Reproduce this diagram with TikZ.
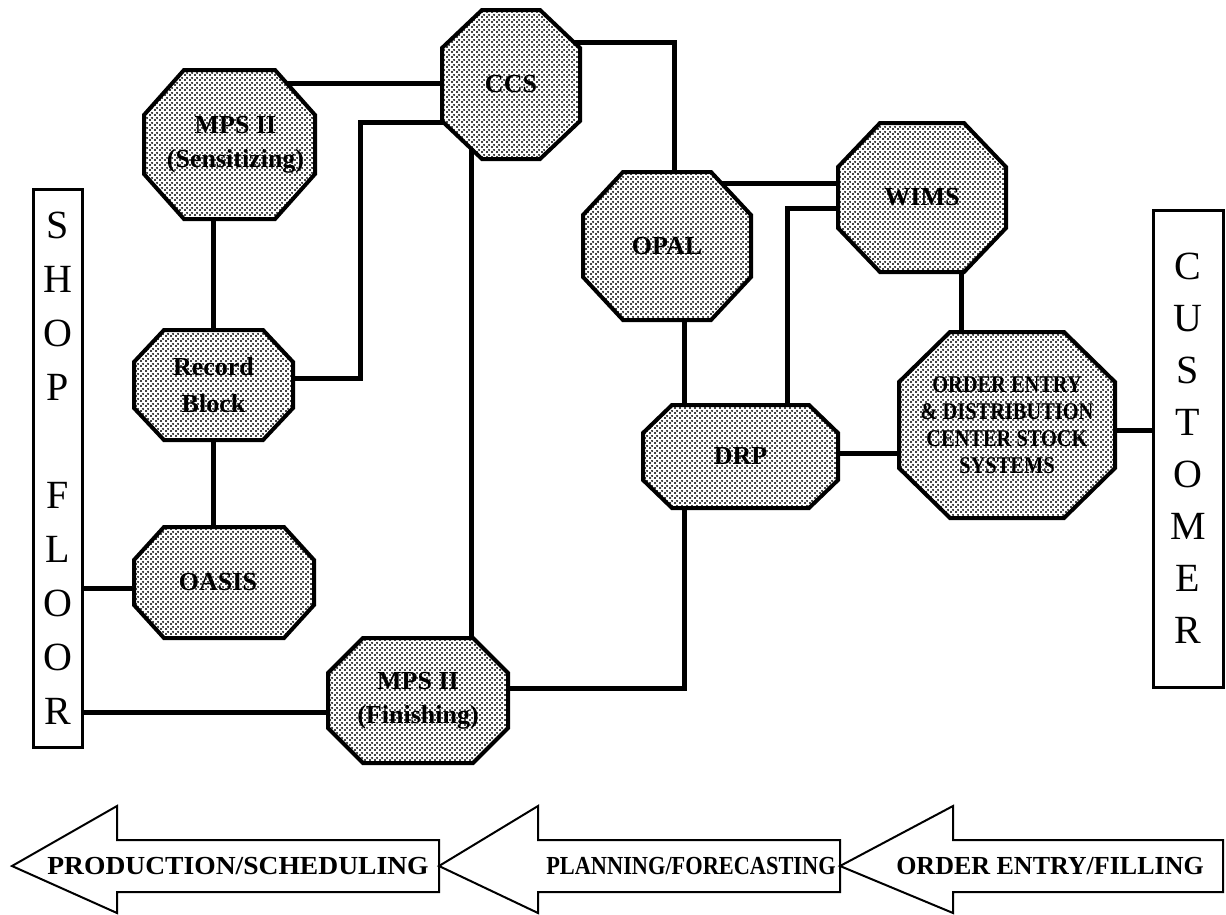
\documentclass[tikz,border=0pt]{standalone}
\usepackage{fontspec}
\usepackage{graphicx}
\setmainfont{Liberation Serif}
\newfontfamily\condfont{Liberation Serif}[FakeStretch=0.85]
\usetikzlibrary{patterns.meta}

% halftone screen used inside the system octagons
\tikzdeclarepattern{
  name=halftone,
  type=uncolored,
  bottom left={(0pt,0pt)},
  top right={(4.5pt,4.5pt)},
  tile size={(4.5pt,4.5pt)},
  code={
    \fill (1.125pt,1.125pt) circle (1.2pt);
    \fill (3.375pt,3.375pt) circle (1.2pt);
  }
}

\pgfdeclarelayer{wires}
\pgfdeclarelayer{shapes}
\pgfsetlayers{wires,shapes,main}

% octagon: [label style]{name}{cx}{cy}{width}{height}{corner x}{corner y}{text}
\newcommand{\drawoct}[9][]{%
  \node[octlabel, minimum width=#5pt, minimum height=#6pt, #1] (#2) at (#3,#4) {#9};
  \begin{pgfonlayer}{shapes}
    \draw[octshape]
      ([xshift=#7pt]#2.north west) -- ([xshift=-#7pt]#2.north east)
      -- ([yshift=-#8pt]#2.north east) -- ([yshift=#8pt]#2.south east)
      -- ([xshift=-#7pt]#2.south east) -- ([xshift=#7pt]#2.south west)
      -- ([yshift=#8pt]#2.south west) -- ([yshift=-#8pt]#2.north west) -- cycle;
  \end{pgfonlayer}}

\begin{document}
\begin{tikzpicture}[x=1pt, y=-1pt,
  octshape/.style={draw=black, line width=4pt, preaction={fill=white},
    pattern=halftone, pattern color=black, line join=miter},
  octlabel/.style={inner sep=0pt, outer sep=0pt, align=center,
    font=\bfseries\fontsize{26}{34}\selectfont},
  wire/.style={line width=5pt},
  sidebox/.style={draw, line width=3pt, fill=white, inner sep=0pt, outer sep=0pt,
    align=center},
  phase/.style={draw, line width=2pt, fill=white, line join=miter},
  phaselabel/.style={inner sep=0pt, font=\bfseries\fontsize{26}{30}\selectfont}]

\useasboundingbox (0,0) rectangle (1226,914);

% systems
\drawoct{mpss}{229.5}{144.5}{171}{149}{40}{45}{\hspace*{12pt}MPS II\\\hspace*{12pt}(Sensitizing)}
\drawoct{ccs}{511}{84.5}{138}{149}{40}{38}{CCS}
\drawoct[font=\bfseries\fontsize{26}{37}\selectfont]{rec}{213.5}{385}{159}{110}{30}{32}{Record\\Block}
\drawoct{oasis}{224}{582.5}{180}{111}{30}{33}{OASIS\hspace*{12pt}}
\drawoct{mpsf}{418}{700.5}{180}{125}{35}{35}{MPS II\\(Finishing)}
\drawoct{opal}{667}{246}{168}{148}{40}{43}{OPAL}
\drawoct{wims}{922}{197.5}{168}{149}{42}{44}{WIMS}
\drawoct{drp}{740.5}{456.5}{195}{103}{29}{28}{DRP}
\drawoct[font=\condfont\bfseries\fontsize{24}{27}\selectfont]{oes}{1007}{425}{216}{186}{51}{50}{ORDER ENTRY\\\& DISTRIBUTION\\CENTER STOCK\\SYSTEMS}

% side columns
\node[sidebox, minimum width=49pt, minimum height=558pt,
  font=\fontsize{40}{54}\selectfont] (shop) at (57.5,468)
  {S\\H\\O\\P\\[54pt]F\\L\\O\\O\\R};
\node[sidebox, minimum width=70pt, minimum height=477pt,
  font=\fontsize{40}{52}\selectfont] (cust) at (1188,448.5)
  {C\\U\\S\\T\\O\\M\\E\\R};

% connections
\coordinate (bendA) at (360,122);
\begin{pgfonlayer}{wires}
  \draw[wire] ([yshift=61.5pt]mpss.center) -- ([yshift=61.5pt]mpss.center -| ccs.center);
  \draw[wire] (rec.center |- mpss.center) -- (rec.center |- oasis.center);
  \draw[wire] ([yshift=7pt]rec.center) -| (bendA) -- (bendA -| ccs.center);
  \draw[wire] ([yshift=-5.5pt]oasis.center) -- ([yshift=-5.5pt]oasis.center -| shop.center);
  \draw[wire] ([yshift=-11.5pt]mpsf.center) -- ([yshift=-11.5pt]mpsf.center -| shop.center);
  \draw[wire] ([xshift=-40pt]ccs.center) -- ([xshift=-40pt]ccs.center |- mpsf.center);
  \draw[wire] ([yshift=42.5pt]ccs.center) -| ([xshift=7pt]opal.center);
  \draw[wire] ([yshift=63pt]opal.center) -- ([yshift=63pt]opal.center -| wims.center);
  \draw[wire] ([xshift=17pt]opal.center) -- ([xshift=17pt]opal.center |- drp.center);
  \draw[wire] ([xshift=46.5pt]drp.center) |- ([yshift=-10.5pt]wims.center);
  \draw[wire] ([xshift=39pt]wims.center) -- ([xshift=39pt]wims.center |- oes.center);
  \draw[wire] ([yshift=3.5pt]drp.center) -- ([yshift=3.5pt]drp.center -| oes.center);
  \draw[wire] ([yshift=-5pt]oes.center) -- ([yshift=-5pt]oes.center -| cust.center);
  \draw[wire] ([yshift=12.5pt]mpsf.center) -| ([xshift=-56.5pt]drp.center);
\end{pgfonlayer}

% phase arrows
\draw[phase] (12,866) -- (117,806) -- (117,840) -- (439,840) -- (439,892)
  -- (117,892) -- (117,913) -- cycle;
\node[phaselabel] (prod) at (238,866) {\scalebox{1.06}[1]{PRODUCTION/SCHEDULING}};
\draw[phase] (439,866) -- (538,806) -- (538,840) -- (840,840) -- (840,892)
  -- (538,892) -- (538,913) -- cycle;
\node[phaselabel] (plan) at (691,866) {\scalebox{0.86}[1]{PLANNING/FORECASTING}};
\draw[phase] (840,866) -- (953,806) -- (953,840) -- (1223,840) -- (1223,892)
  -- (953,892) -- (953,913) -- cycle;
\node[phaselabel] (order) at (1050,866) {ORDER ENTRY/FILLING};

\end{tikzpicture}
\end{document}
